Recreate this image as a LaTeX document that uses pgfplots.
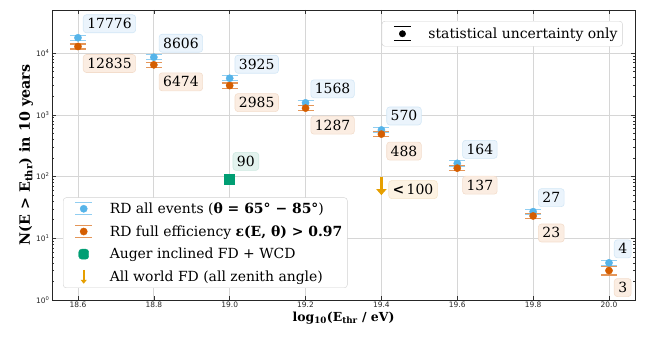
\documentclass[border=0pt]{standalone}
\usepackage{pgfplots}
\pgfplotsset{compat=1.18}
\usepackage{pgfplotstable}
\usepackage{fontspec}
\setmainfont{DejaVu Serif}
\setsansfont{DejaVu Sans}
\usetikzlibrary{arrows.meta}
\definecolor{cblue}{HTML}{56B4E9}
\definecolor{corange}{HTML}{D55E00}
\definecolor{cgreen}{HTML}{009E73}
\definecolor{cyellow}{HTML}{E69F00}
\definecolor{lblue}{HTML}{EBF4FC}
\definecolor{lbluedraw}{HTML}{D3E7F6}
\definecolor{lorange}{HTML}{FBEDE2}
\definecolor{loraned}{HTML}{F3DDCC}
\definecolor{lgreen}{HTML}{E3F3EE}
\definecolor{lgreend}{HTML}{CDE9E0}
\definecolor{lyellow}{HTML}{FDF3E3}
\definecolor{lyellowd}{HTML}{F6E5C8}
\tikzset{lbl/.style={rounded corners=3bp, inner xsep=4bp, inner ysep=4bp, text height=10bp, text depth=0bp, font=\fontsize{14}{16}\selectfont, line width=0.6bp}}
\pgfplotstableread{
x y ep em lab
18.6 17776 1780 1600 17776
18.8 8606 860 780 8606
19.0 3925 390 350 3925
19.2 1568 157 141 1568
19.4 570 57 51 570
19.6 164 16 15 164
19.8 27 2.7 2.4 27
20.0 4 0.4 0.35 4
}\alldata
\pgfplotstableread{
x y ep em lab
18.6 12835 1280 1150 12835
18.8 6474 650 580 6474
19.0 2985 300 270 2985
19.2 1287 129 116 1287
19.4 488 49 44 488
19.6 137 14 12 137
19.8 23 2.3 2.1 23
20.0 3 0.5 0.45 3
}\fulldata
\begin{document}
\begin{tikzpicture}
\useasboundingbox (-52bp,-41bp) rectangle (596bp,300bp);
\begin{axis}[
  at={(0,0)}, anchor=south west,
  scale only axis, width=583bp, height=290bp,
  ymode=log, xmin=18.5315, xmax=20.0686, ymin=1, ymax=50100,
  xtick={18.6,18.8,19.0,19.2,19.4,19.6,19.8,20.0},
  ytick={1,10,100,1000,10000},
  yticklabels={10\textsuperscript{0},10\textsuperscript{1},10\textsuperscript{2},10\textsuperscript{3},10\textsuperscript{4}},
  /pgf/number format/assume math mode=true,
  x tick label style={/pgf/number format/fixed, /pgf/number format/fixed zerofill, /pgf/number format/precision=1, yshift=2bp},
  tick label style={font=\sffamily\fontsize{7.5}{9}\selectfont, black!85},
  y tick label style={xshift=1bp},
  tick align=inside, major tick length=4bp, minor tick length=2bp,
  tick style={black!80, line width=0.6bp},
  grid=major, major grid style={line width=0.7bp, black!16},
  axis line style={black!85, line width=0.9bp},
  every axis y label/.style={at={(axis description cs:-0.0446,0.5)}, rotate=90, anchor=center, font=\fontsize{14.3}{16}\selectfont},
  every axis x label/.style={at={(axis description cs:0.5,-0.062)}, anchor=center, font=\fontsize{12.5}{14}\selectfont},
  ylabel={\textbf{N(E > E\textsubscript{thr}) in 10 years}},
  xlabel={\textbf{log\textsubscript{10}(E\textsubscript{thr} / eV)}},
  clip=false,
  legend cell align=left,
  legend style={at={(0.0189,0.0414)}, anchor=south west, draw=black!18, rounded corners=3bp, fill=white,
    font=\fontsize{14}{16}\selectfont, inner xsep=3bp, inner ysep=3bp, row sep=6.5bp,
    /tikz/every odd column/.append style={column sep=15bp}},
]
% error bars
\addplot[forget plot, draw=none, mark=none,
  error bars/.cd, y dir=both, y explicit,
  error bar style={cblue!65, line width=1.2bp},
  error mark options={cblue!65, line width=1.2bp, mark size=8bp, rotate=90}]
  table[x=x, y=y, y error plus=ep, y error minus=em] {\alldata};
\addplot[forget plot, draw=none, mark=none,
  error bars/.cd, y dir=both, y explicit,
  error bar style={corange!65, line width=1.2bp},
  error mark options={corange!65, line width=1.2bp, mark size=8bp, rotate=90}]
  table[x=x, y=y, y error plus=ep, y error minus=em] {\fulldata};
% markers
\addplot[forget plot, only marks, mark=*, mark size=3.6bp, color=cblue,
  point meta=explicit symbolic, nodes near coords,
  nodes near coords style={lbl, fill=lblue, draw=lbluedraw, text=black, anchor=west, xshift=5bp, yshift=14bp}]
  table[x=x, y=y, meta=lab] {\alldata};
\addplot[forget plot, only marks, mark=*, mark size=3.6bp, color=corange,
  point meta=explicit symbolic, nodes near coords,
  nodes near coords style={lbl, fill=lorange, draw=loraned, text=black, anchor=west, xshift=5bp, yshift=-17bp}]
  table[x=x, y=y, meta=lab] {\fulldata};
\addplot[forget plot, only marks, mark=square*, mark size=5bp, color=cgreen,
  point meta=explicit symbolic, nodes near coords,
  nodes near coords style={lbl, fill=lgreen, draw=lgreend, text=black, anchor=west, xshift=3bp, yshift=18bp}]
  coordinates {(19.0,90) [90]};
% upper limit arrow
\addplot[forget plot, draw=none, mark=none,
  error bars/.cd, y dir=minus, y explicit, error mark=none,
  error bar style={cyellow, line width=2.6bp, -{Triangle[width=10bp,length=6bp]}}]
  coordinates {(19.4,100) -= (0,50)};
\addplot[forget plot, only marks, mark=none,
  point meta=explicit symbolic, nodes near coords,
  nodes near coords style={lbl, fill=lyellow, draw=lyellowd, text=black, anchor=west, xshift=7bp, yshift=-13bp}]
  coordinates {(19.4,100) [\textbf{<}\,100]};
% legend
\addlegendimage{legend image code/.code={
  \path[draw=none, fill=none] (-9bp,0bp) rectangle (17bp,0.1bp);
  \draw[cblue!65, line width=1.1bp] (0bp,6bp) -- (17bp,6bp);
  \draw[cblue!65, line width=1.1bp] (0bp,-6bp) -- (17bp,-6bp);
  \fill[cblue] (8.5bp,0bp) circle (3.6bp);}}
\addlegendentry{RD all events (\textbf{θ = 65° − 85°})}
\addlegendimage{legend image code/.code={
  \path[draw=none, fill=none] (-9bp,0bp) rectangle (17bp,0.1bp);
  \draw[corange!65, line width=1.1bp] (0bp,6bp) -- (17bp,6bp);
  \draw[corange!65, line width=1.1bp] (0bp,-6bp) -- (17bp,-6bp);
  \fill[corange] (8.5bp,0bp) circle (3.6bp);}}
\addlegendentry{RD full efficiency \textbf{ε(E, θ) > 0.97}}
\addlegendimage{legend image code/.code={
  \path[draw=none, fill=none] (-9bp,0bp) rectangle (17bp,0.1bp);
  \fill[cgreen] (3.5bp,-5bp) rectangle (13.5bp,5bp);}}
\addlegendentry{Auger inclined FD + WCD}
\addlegendimage{legend image code/.code={
  \path[draw=none, fill=none] (-9bp,0bp) rectangle (17bp,0.1bp);
  \draw[cyellow, line width=1.6bp, -{Triangle[width=6bp,length=4bp]}] (8.5bp,7bp) -- (8.5bp,-7bp);}}
\addlegendentry{All world FD (all zenith angle)}
\end{axis}
\begin{axis}[
  at={(0,0)}, anchor=south west,
  scale only axis, width=583bp, height=290bp,
  hide axis, xmin=0, xmax=1, ymin=0, ymax=1,
  legend cell align=left,
  legend style={at={(0.979,0.962)}, anchor=north east, draw=black!18, rounded corners=3bp, fill=white,
    font=\fontsize{14}{16}\selectfont, inner xsep=3bp, inner ysep=4.5bp,
    /tikz/every odd column/.append style={column sep=15bp}},
]
\addlegendimage{legend image code/.code={
  \path[draw=none, fill=none] (-9bp,0bp) rectangle (17bp,0.1bp);
  \draw[black, line width=1.1bp] (0bp,7bp) -- (17bp,7bp);
  \draw[black, line width=1.1bp] (0bp,-7bp) -- (17bp,-7bp);
  \fill[black] (8.5bp,0bp) circle (3.2bp);}}
\addlegendentry{statistical uncertainty only}
\end{axis}
\end{tikzpicture}
\end{document}
